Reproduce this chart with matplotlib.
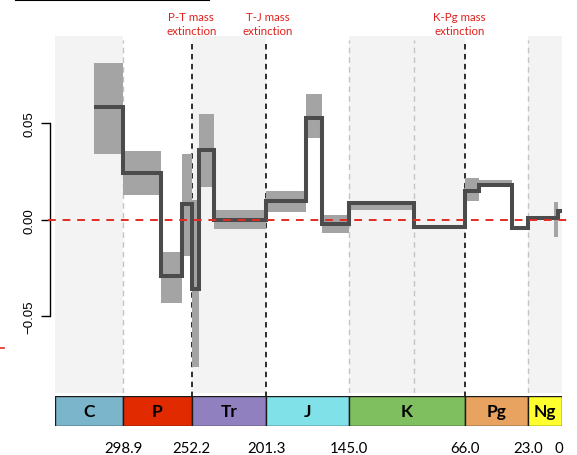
import matplotlib
matplotlib.use('Agg')
import matplotlib.pyplot as plt
import matplotlib.transforms as mtransforms
from matplotlib.lines import Line2D

plt.rcParams['font.family'] = ['Lato', 'DejaVu Sans']

# ---------------- data ----------------
periods = ['C', 'P', 'Tr', 'J', 'K', 'Pg', 'Ng']
period_bounds = [345.4, 298.9, 252.2, 201.3, 145.0, 66.0, 23.0, 0.0]
period_colors = ['#7bb5cb', '#e12a00', '#9180bf', '#80e1e9', '#7fbf60', '#e7a35f', '#ffff2e']
shaded_periods = ['C', 'Tr', 'K', 'Ng']
boundary_ticks = [298.9, 252.2, 201.3, 145.0, 66.0, 23.0, 0.0]
boundary_labels = ['298.9', '252.2', '201.3', '145.0', '66.0', '23.0', '0']
minor_bounds = [298.9, 145.0, 100.5, 23.0]
extinctions = [252.2, 201.3, 66.0]
extinction_labels = ['P-T mass\nextinction', 'T-J mass\nextinction', 'K-Pg mass\nextinction']

bin_edges = [318.8, 298.9, 272.95, 259.1, 252.2, 247.2, 237.0, 201.3, 174.1, 163.5,
             145.0, 100.5, 66.0, 56.0, 33.9, 23.0, 5.33, 2.58, 0.0]
rate = [0.0585, 0.0243, -0.0291, 0.0082, -0.0359, 0.0362, 0.0000, 0.0100, 0.0528,
        -0.0022, 0.0087, -0.0036, 0.0148, 0.0182, -0.0043, 0.0008, 0.0010, 0.0048]
rate_lo = [0.0341, 0.0129, -0.0432, -0.0189, -0.0763, 0.0170, -0.0048, 0.0039, 0.0424,
           -0.0068, 0.0052, -0.0042, 0.0099, 0.0177, -0.0051, 0.0002, -0.0088, 0.0040]
rate_hi = [0.0813, 0.0357, -0.0165, 0.0341, 0.0103, 0.0549, 0.0052, 0.0148, 0.0652,
           0.0025, 0.0098, -0.0030, 0.0215, 0.0208, -0.0031, 0.0015, 0.0094, 0.0058]
y_ticks = [-0.05, 0.0, 0.05]
y_ticklabels = ['\u22120.05', '0.00', '0.05']

# ---------------- layout ----------------
W, H = 577, 456
fig = plt.figure(figsize=(W / 100, H / 100), dpi=100)
ax_l, ax_r, ax_t, ax_b = 55, 561.5, 37, 394
ax = fig.add_axes([ax_l / W, 1 - ax_b / H, (ax_r - ax_l) / W, (ax_b - ax_t) / H])
ax.set_xlim(period_bounds[0], period_bounds[-1])
ax.set_ylim(-0.0898, 0.0953)

# shading of alternate periods
for name, a, b in zip(periods, period_bounds[:-1], period_bounds[1:]):
    if name in shaded_periods:
        ax.axvspan(a, b, color='#f3f3f3', lw=0, zorder=0)

# dashed boundaries
for x in minor_bounds:
    ax.axvline(x, ymin=0, ymax=0.99, color='#c4c4c4', lw=1.0, ls=(0, (4, 3)), zorder=1)
for x in extinctions:
    ax.axvline(x, ymin=-0.01, ymax=0.99, color='#1e1e1e', lw=1.3, ls=(0, (3, 2.5)),
               zorder=1, clip_on=False)

# confidence band and step line
ax.fill_between(bin_edges, rate_lo + [rate_lo[-1]], rate_hi + [rate_hi[-1]],
                step='post', color='#a4a4a4', lw=0, zorder=2)
ax.step(bin_edges, rate + [rate[-1]], where='post', color='#4b4b4b', lw=2.9,
        solid_joinstyle='miter', solid_capstyle='butt', zorder=3)

# zero line
ax.axhline(0, xmin=-0.014, xmax=1.016, color='#e32b22', lw=1.4, ls=(0, (4, 3.5)),
           zorder=5, clip_on=False)

# axes styling
for s in ['top', 'right', 'bottom']:
    ax.spines[s].set_visible(False)
ax.spines['left'].set_position(('outward', 3.6))
ax.spines['left'].set_bounds(-0.05, 0.05)
ax.spines['left'].set_linewidth(1.0)
ax.set_xticks([])
ax.set_yticks(y_ticks)
ax.set_yticklabels(y_ticklabels, rotation=90, va='center',
                   fontfamily='Liberation Sans', fontsize=9.5)
ax.tick_params(axis='y', length=6.7, width=1.0, pad=4)

# extinction annotations
label_dx = [-0.3, 1.2, -3.6]   # small horizontal nudges (points)
trans = mtransforms.blended_transform_factory(ax.transData, fig.transFigure)
for x, lab, dx in zip(extinctions, extinction_labels, label_dx):
    ax.annotate(lab, xy=(x, 1 - 24.5 / H), xycoords=trans, xytext=(dx, 0),
                textcoords='offset points', ha='center', va='center',
                color='#e0201c', fontsize=8.3, linespacing=1.25, annotation_clip=False)

# period bar
axb = fig.add_axes([ax_l / W, 1 - 427 / H, (ax_r - ax_l) / W, 30 / H])
axb.set_xlim(period_bounds[0], period_bounds[-1])
axb.set_ylim(0, 1)
for name, a, b, c in zip(periods, period_bounds[:-1], period_bounds[1:], period_colors):
    axb.axvspan(a, b, facecolor=c, edgecolor='#1a1a1a', lw=1.0)
    axb.text((a + b) / 2, 0.5, name, ha='center', va='center', fontsize=12.5,
             fontweight='bold', color='black')
for s in axb.spines.values():
    s.set_visible(False)
axb.set_xticks([])
axb.set_yticks([])

# boundary age labels below the bar
tick_dx = [0, 0, 0, 0, 0, 0, -2.2]
btrans = axb.get_xaxis_transform()
for t, lab, dx in zip(boundary_ticks, boundary_labels, tick_dx):
    axb.annotate(lab, xy=(t, 0), xycoords=btrans, xytext=(dx, -18.9),
                 textcoords='offset points', ha='center', va='baseline',
                 fontsize=10.8, color='black', annotation_clip=False)

# cropped remnants at the figure edges
fig.add_artist(Line2D([15.7 / W, 209 / W], [1 - 0.7 / H] * 2, color='black', lw=1.5))
fig.add_artist(Line2D([0, 3.5 / W], [1 - 349.3 / H] * 2, color='#e32b22', lw=1.2))

fig.savefig('out.png', dpi=100)
